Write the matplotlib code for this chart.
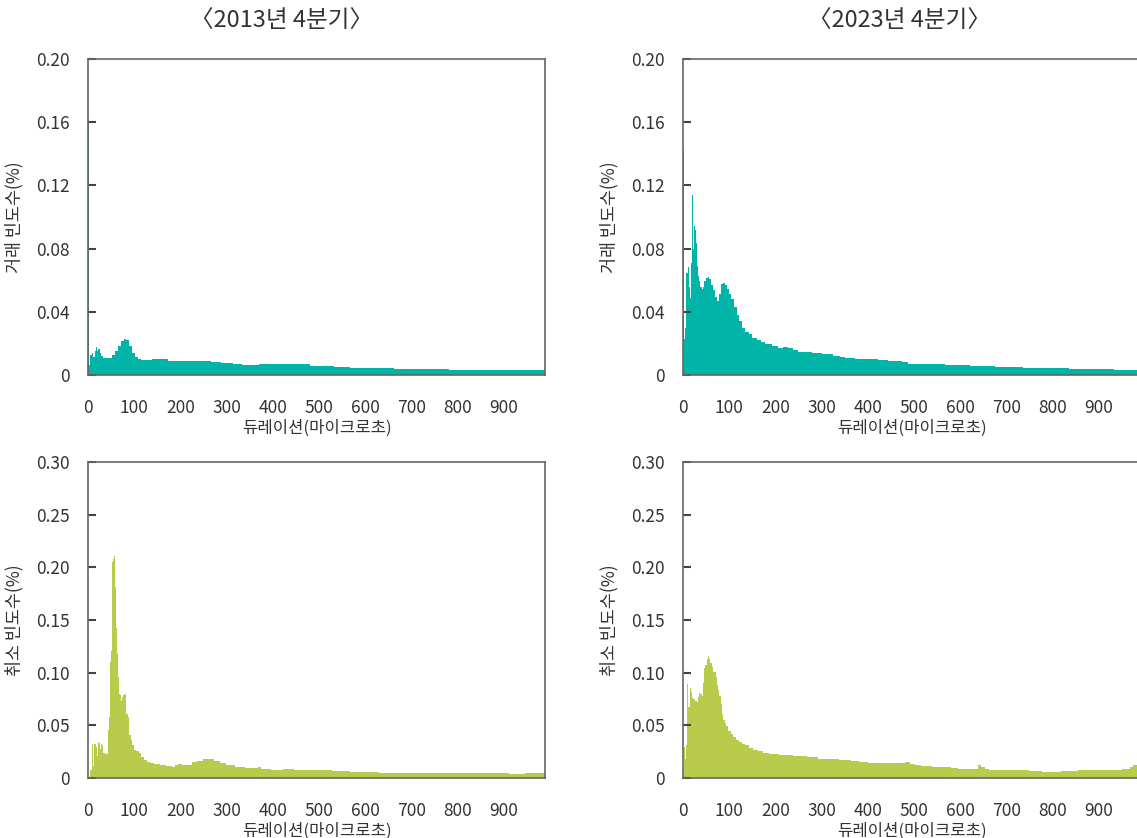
import matplotlib
matplotlib.use("Agg")
import matplotlib.pyplot as plt

plt.rcParams['font.family'] = ['Noto Sans CJK KR', 'DejaVu Sans']
plt.rcParams['font.weight'] = 'light'

# duration (microseconds) and frequency (%)
tl_x = [0, 2.9, 6.5, 9.4, 13, 16, 18, 20, 24, 27, 31, 35, 40, 49, 55, 62, 69, 75, 80, 85, 91, 98, 105, 113,
        117, 138, 141, 172, 174, 217, 228, 264, 268, 286, 289, 313, 315, 333, 336, 369, 372, 398, 416, 480,
        483, 531, 534, 567, 570, 661, 664, 780, 783, 990]
tl_y = [0.162, 0.0063, 0.0127, 0.014, 0.0116, 0.0155, 0.0178, 0.0152, 0.0165, 0.0138, 0.012, 0.011, 0.0108,
        0.0108, 0.0127, 0.0155, 0.0184, 0.0216, 0.0229, 0.022, 0.0186, 0.0142, 0.0116, 0.0102,
        0.0095, 0.0095, 0.0102, 0.0102, 0.0091, 0.0091, 0.0089, 0.0089, 0.0083, 0.0083, 0.0076, 0.0076,
        0.0068, 0.0068, 0.0063, 0.0063, 0.007, 0.007, 0.0068, 0.0068, 0.0059, 0.0059, 0.0051, 0.0051,
        0.0044, 0.0044, 0.0038, 0.0038, 0.0032, 0.0032]

tr_x = [0, 3, 5, 8.7, 11.6, 13.8, 16, 18, 20.3, 22.5, 24.6, 26.8, 29, 31, 33.3, 35.5, 38.4, 42, 45, 47.8,
        51.4, 55, 59.4, 63.8, 68, 72.5, 76.8, 80.4, 84, 88.4, 92.8, 97, 102, 107, 113, 119, 125, 131, 138,
        146, 155, 164, 172, 185, 200, 211, 221, 232, 243, 256, 272, 287, 316, 334, 345, 359, 388, 421, 425,
        443, 446, 472, 475, 486, 489, 566, 569, 620, 623, 675, 678, 736, 739, 834, 837, 932, 935, 990]
tr_y = [0.143, 0.0226, 0.030, 0.0645, 0.0686, 0.0555, 0.049, 0.071, 0.1137, 0.080, 0.0946, 0.0918, 0.0836,
        0.069, 0.0629, 0.0593, 0.056, 0.0542, 0.056, 0.0593, 0.0612, 0.0618, 0.0605, 0.0571, 0.0538, 0.0495,
        0.047, 0.0512, 0.0576, 0.0582, 0.0569, 0.0544, 0.0512, 0.048, 0.0428, 0.0379, 0.0339, 0.030, 0.0273,
        0.0258, 0.0237, 0.0222, 0.0212, 0.0199, 0.0184, 0.0174, 0.0178, 0.0174, 0.0159, 0.0148, 0.0144,
        0.014, 0.0131, 0.012, 0.0116, 0.0108, 0.0104, 0.0104, 0.0095, 0.0095, 0.0089, 0.0089, 0.0083,
        0.0083, 0.0072, 0.0072, 0.0063, 0.0063, 0.0057, 0.0057, 0.0051, 0.0051, 0.0044, 0.0044, 0.0038,
        0.0038, 0.0032, 0.0032]

bl_x = [0, 2.9, 5.8, 9.4, 11.5, 16, 18, 20, 22.4, 24.5, 26.7, 28.9, 31, 34.6, 38.3, 42, 44, 46, 48.3, 50.5,
        52.7, 54.8, 57, 59, 61.3, 63.5, 65.6, 67.8, 70, 72, 74, 78, 81, 84, 88, 91, 93.6, 97, 102, 107, 113,
        118.6, 124, 131, 138, 149, 163, 177, 185, 192, 199, 210, 221, 231, 242, 257, 268, 278, 293, 307,
        329, 350, 365, 371, 379, 415, 430, 433, 445, 448, 528, 531, 567, 570, 629, 632, 910, 913, 946, 949,
        990]
bl_y = [0.001, 0.001, 0.0076, 0.032, 0.011, 0.032, 0.029, 0.021, 0.0345, 0.0336, 0.028, 0.032, 0.031, 0.024,
        0.0228, 0.023, 0.046, 0.0576, 0.11, 0.1206, 0.205, 0.208, 0.211, 0.181, 0.142, 0.118, 0.096, 0.080,
        0.079, 0.073, 0.077, 0.079, 0.080, 0.061, 0.058, 0.041, 0.036, 0.031, 0.027, 0.0256, 0.0234, 0.020,
        0.017, 0.0155, 0.0139, 0.013, 0.012, 0.011, 0.0104, 0.012, 0.013, 0.012, 0.0127, 0.0149, 0.0158,
        0.0177, 0.018, 0.0165, 0.0146, 0.0127, 0.0104, 0.0095, 0.0095, 0.0104, 0.0085, 0.0079, 0.0082,
        0.0089, 0.0089, 0.0076, 0.0076, 0.0066, 0.0066, 0.0057, 0.0057, 0.0051, 0.0051, 0.0041, 0.0041,
        0.0051, 0.0051]

br_x = [0, 3, 5, 7, 9.4, 13.8, 16, 18, 20, 24.6, 29, 31, 33, 36, 39, 42, 44, 46, 50, 53, 56, 58, 61, 64, 67,
        69.6, 72.5, 74.6, 77.5, 80, 83, 86, 89, 92, 95, 100, 106, 111.6, 117, 124, 131, 138, 146, 156, 167,
        178, 193, 222, 254, 283, 301, 323, 352, 374, 388, 399, 402, 479, 482, 490, 493, 502, 505, 515, 518,
        538, 541, 580, 583, 595, 598, 635, 642, 649, 660, 667, 747, 750, 776, 779, 818, 821, 854, 857, 948,
        952, 964, 971, 979, 990]
br_y = [0.004, 0.029, 0.018, 0.031, 0.089, 0.067, 0.085, 0.082, 0.076, 0.075, 0.073, 0.0717, 0.077, 0.081,
        0.0796, 0.078, 0.09, 0.104, 0.1075, 0.1126, 0.1157, 0.1126, 0.109, 0.1057, 0.1006, 0.101, 0.096,
        0.088, 0.084, 0.078, 0.070, 0.061, 0.055, 0.052, 0.049, 0.045, 0.042, 0.0387, 0.0365, 0.034, 0.0327,
        0.031, 0.0286, 0.027, 0.0255, 0.0236, 0.023, 0.0223, 0.0208, 0.0198, 0.018, 0.0176, 0.0167, 0.016,
        0.015, 0.0151, 0.0142, 0.0142, 0.0151, 0.0151, 0.0135, 0.0135, 0.0123, 0.0123, 0.0113, 0.0113,
        0.0104, 0.0104, 0.0094, 0.0094, 0.0085, 0.0085, 0.012, 0.0107, 0.0085, 0.0075, 0.0075, 0.0066,
        0.0066, 0.0057, 0.0057, 0.0066, 0.0066, 0.0075, 0.0075, 0.0088, 0.0088, 0.0104, 0.0126, 0.0145]

titles = ['〈2013년 4분기〉', '〈2023년 4분기〉']
x_ticks = [0, 100, 200, 300, 400, 500, 600, 700, 800, 900]
top_ticks = [0, 0.04, 0.08, 0.12, 0.16, 0.20]
top_labels = ['0', '0.04', '0.08', '0.12', '0.16', '0.20']
bot_ticks = [0, 0.05, 0.10, 0.15, 0.20, 0.25, 0.30]
bot_labels = ['0', '0.05', '0.10', '0.15', '0.20', '0.25', '0.30']

teal = '#00B4A7'
green = '#B8CB4C'
txt = '#333333'

fig = plt.figure(figsize=(11.37, 8.38), dpi=100)

W, H = 1137, 838
def make_ax(left, top, right, bottom):
    return fig.add_axes([left / W, 1 - bottom / H, (right - left) / W, (bottom - top) / H])

ax_tl = make_ax(88, 59, 545, 375)
ax_tr = make_ax(683, 59, 1140, 375)
ax_bl = make_ax(88, 462, 545, 778)
ax_br = make_ax(683, 462, 1140, 778)

panels = [
    (ax_tl, tl_x, tl_y, teal, top_ticks, top_labels, '거래 빈도수(%)'),
    (ax_tr, tr_x, tr_y, teal, top_ticks, top_labels, '거래 빈도수(%)'),
    (ax_bl, bl_x, bl_y, green, bot_ticks, bot_labels, '취소 빈도수(%)'),
    (ax_br, br_x, br_y, green, bot_ticks, bot_labels, '취소 빈도수(%)'),
]

for ax, xs, ys, col, yt, yl, ylab in panels:
    ax.fill_between(xs, ys, 0, step='mid', color=col, lw=0)
    ax.set_xlim(0, 990)
    ax.set_ylim(0, yt[-1])
    ax.set_xticks(x_ticks)
    ax.set_xticklabels([str(t) for t in x_ticks])
    ax.set_yticks(yt)
    ax.set_yticklabels(yl)
    ax.tick_params(axis='x', length=0, pad=17, labelsize=12.5, labelcolor=txt)
    ax.tick_params(axis='y', direction='in', length=6, width=1.5, color='#444444',
                   pad=13, labelsize=12.5, labelcolor=txt)
    for s in ax.spines.values():
        s.set_color('#666666')
        s.set_linewidth(1.2)
    ax.set_xlabel('듀레이션(마이크로초)', fontsize=12, color=txt, labelpad=2)
    ax.set_ylabel(ylab, fontsize=12.5, color=txt, labelpad=9)

fig.text(282 / W, 1 - 21 / H, titles[0], ha='center', va='center', fontsize=17, color=txt)
fig.text(900 / W, 1 - 21 / H, titles[1], ha='center', va='center', fontsize=17, color=txt)

fig.savefig('out.png', dpi=100)
